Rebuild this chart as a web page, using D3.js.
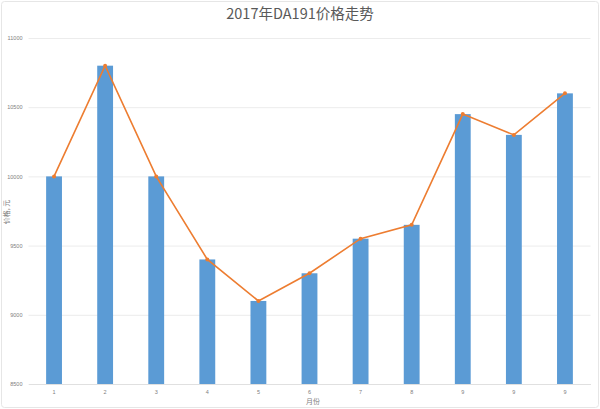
<!DOCTYPE html>
<html><head><meta charset="utf-8">
<script src="https://cdn.jsdelivr.net/npm/d3@7"></script>
<style>body{margin:0;background:#fff;}svg{display:block;font-family:"Noto Sans CJK SC","Noto Sans",sans-serif;}</style>
</head><body>
<svg id="c" width="600" height="409"></svg>
<script>
const categories = ["1","2","3","4","5","6","7","8","9","10","11"];
const tickLabels = ["1","2","3","4","5","6","7","8","9","9","9"];
const prices = [10000,10800,10000,9400,9100,9300,9550,9650,10450,10300,10600];
const yTicks = [8500,9000,9500,10000,10500,11000];

const svg = d3.select("#c");
const W = 600, H = 409;
const m = {left: 28.5, right: 9.5, top: 38, bottom: 25};
svg.append("rect").attr("x",1.5).attr("y",1.5).attr("width",W-3).attr("height",H-3)
  .attr("fill","#fff").attr("stroke","#e6e6e6").attr("rx",3);

const x = d3.scaleBand().domain(categories).range([m.left, W-m.right]).paddingInner(0.69).paddingOuter(0.345);
const y = d3.scaleLinear().domain([8500,11000]).range([H-m.bottom, m.top]);

// grid
const ga = svg.append("g").attr("transform",`translate(${m.left},0)`)
  .call(d3.axisLeft(y).tickValues(yTicks).tickSize(-(W-m.left-m.right)).tickFormat(d3.format("d")));
ga.select(".domain").remove();
ga.selectAll(".tick line").attr("stroke","#ececec");
ga.selectAll(".tick text").attr("fill","#808080").attr("font-size",5.5).attr("x",-6);

// bars
svg.append("g").selectAll("rect").data(prices).join("rect")
  .attr("x",(d,i)=>x(categories[i])).attr("width",x.bandwidth())
  .attr("y",d=>y(d)).attr("height",d=>y(8500)-y(d)).attr("fill","#5B9BD5");

// x axis
const xa = svg.append("g").attr("transform",`translate(0,${H-m.bottom})`)
  .call(d3.axisBottom(x).tickSize(0).tickFormat((d,i)=>tickLabels[i]));
xa.select(".domain").attr("stroke","#e0e0e0");
xa.selectAll(".tick text").attr("fill","#808080").attr("font-size",5.5).attr("dy","1.2em");

// line
const line = d3.line().x((d,i)=>x(categories[i])+x.bandwidth()/2).y(d=>y(d));
svg.append("path").datum(prices).attr("d",line).attr("fill","none")
  .attr("stroke","#ED7D31").attr("stroke-width",1.6);
svg.append("g").selectAll("circle").data(prices).join("circle")
  .attr("cx",(d,i)=>x(categories[i])+x.bandwidth()/2).attr("cy",d=>y(d)).attr("r",2)
  .attr("fill","#ED7D31");

// title
svg.append("text").attr("x",300).attr("y",19).attr("text-anchor","middle")
  .attr("font-size",14.5).attr("fill","#595959").text("2017年DA191价格走势");
// axis titles
svg.append("text").attr("x",313).attr("y",404).attr("text-anchor","middle")
  .attr("font-size",7).attr("fill","#808080").text("月份");
svg.append("text").attr("transform","translate(9,212) rotate(-90)").attr("text-anchor","middle")
  .attr("font-size",7).attr("fill","#808080").text("价格, 元");
</script>
</body></html>
